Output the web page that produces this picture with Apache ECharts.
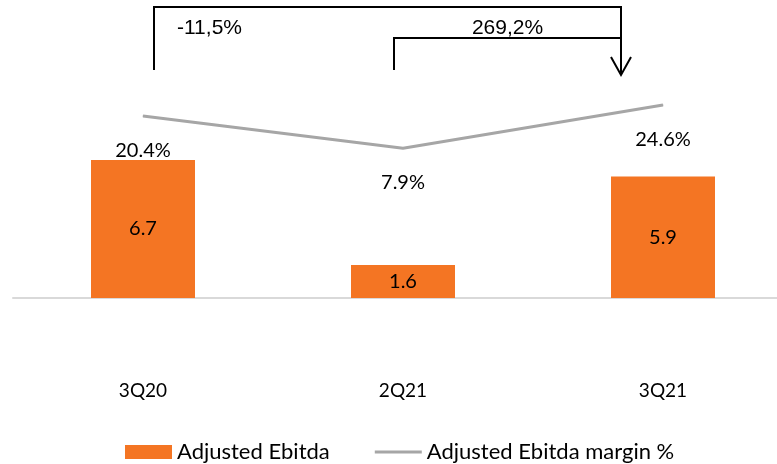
<!DOCTYPE html>
<html lang="en">
<head>
    <meta charset="UTF-8">
    <title>Adjusted Ebitda</title>
    <script src="https://cdn.jsdelivr.net/npm/echarts@6/dist/echarts.min.js"></script>
    <style>
        html, body { margin: 0; padding: 0; background: #fff; }
        #chart { width: 777px; height: 464px; }
    </style>
</head>
<body>
    <div id="chart"></div>

    <script>
        // data
        const quarters = ['3Q20', '2Q21', '3Q21'];
        const ebitda = [6.7, 1.6, 5.9];
        const margin = [20.4, 7.9, 24.6];
        const changeLabels = ['-11,5%', '269,2%'];

        const FONT = 'Lato, "Open Sans", sans-serif';

        const chart = echarts.init(document.getElementById('chart'));

        const option = {
            animation: false,
            textStyle: { fontFamily: FONT },
            grid: { left: 13, top: 51, width: 780, height: 247, outerBoundsMode: 'none' },
            legend: {
                left: 120,
                top: 436,
                itemGap: 45,
                itemWidth: 47,
                itemHeight: 14,
                textStyle: { fontSize: 22, color: '#000', fontFamily: FONT },
                data: [
                    { name: 'Adjusted Ebitda', icon: 'rect' },
                    { name: 'Adjusted Ebitda margin %', icon: 'path://M0,0H48V3H0Z' }
                ]
            },
            xAxis: {
                type: 'category',
                data: quarters,
                axisLine: { lineStyle: { color: '#d9d9d9', width: 2 } },
                axisTick: { show: false },
                axisLabel: { margin: 83, fontSize: 19, color: '#000', fontFamily: FONT }
            },
            yAxis: [
                { type: 'value', min: 0, max: 12, show: false, splitLine: { show: false } },
                { type: 'value', min: -50, max: 45.5, show: false, splitLine: { show: false } }
            ],
            series: [
                {
                    name: 'Adjusted Ebitda',
                    type: 'bar',
                    data: ebitda,
                    barWidth: 104,
                    itemStyle: { color: '#f47523' },
                    label: {
                        show: true,
                        position: 'inside',
                        fontSize: 20,
                        color: '#000',
                        fontFamily: FONT
                    }
                },
                {
                    name: 'Adjusted Ebitda margin %',
                    type: 'line',
                    yAxisIndex: 1,
                    data: margin,
                    symbol: 'circle',
                    symbolSize: 1,
                    itemStyle: { color: '#a6a6a6' },
                    lineStyle: { color: '#a6a6a6', width: 3 },
                    label: {
                        show: true,
                        position: 'bottom',
                        distance: 24,
                        fontSize: 20,
                        color: '#000',
                        fontFamily: FONT,
                        formatter: p => p.value.toFixed(1) + '%'
                    }
                }
            ]
        };

        chart.setOption(option);

        // change brackets above the chart, positioned from the category axis
        const px = quarters.map(q => chart.convertToPixel({ xAxisIndex: 0 }, q));
        const left = px[0] + 11;
        const mid = px[1] - 9;
        const right = px[2] - 42;
        const stroke = { stroke: '#000', lineWidth: 2, fill: null };
        const labelFont = '21px "Liberation Sans", Arial';

        chart.setOption({
            graphic: [
                { type: 'polyline', shape: { points: [[left, 70], [left, 7], [right, 7], [right, 74]] }, style: stroke },
                { type: 'polyline', shape: { points: [[mid, 70], [mid, 38], [right, 38]] }, style: stroke },
                { type: 'polyline', shape: { points: [[right - 10, 57], [right, 75], [right + 10, 57]] }, style: stroke },
                {
                    type: 'text', x: left + 23, y: 28,
                    style: { text: changeLabels[0], font: labelFont, fill: '#000', verticalAlign: 'middle' }
                },
                {
                    type: 'text', x: (mid + right) / 2, y: 28,
                    style: { text: changeLabels[1], font: labelFont, fill: '#000', align: 'center', verticalAlign: 'middle' }
                }
            ]
        });
    </script>
</body>
</html>
